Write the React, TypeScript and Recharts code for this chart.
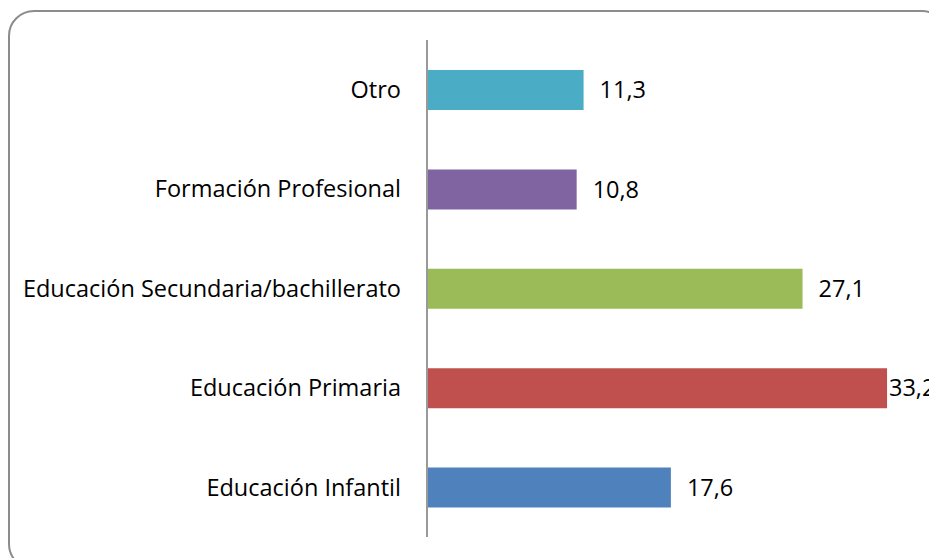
import { BarChart, Bar, XAxis, YAxis, Cell, LabelList } from "recharts"

const categories = [
  "Otro",
  "Formación Profesional",
  "Educación Secundaria/bachillerato",
  "Educación Primaria",
  "Educación Infantil",
]
const values = [11.3, 10.8, 27.1, 33.2, 17.6]
const colors = ["#4BACC6", "#8064A2", "#9BBB59", "#C0504D", "#4F81BD"]

const data = categories.map((name, i) => ({ name, value: values[i] }))

const W = 929
const H = 558
const FONT = "'Open Sans', Lato, sans-serif"
const FS = 23.5

function ValueLabel(props: any) {
  const { x, y, width, height, value } = props
  const tx = Math.min(x + width + 16, W - 40)
  return (
    <text
      x={tx}
      y={y + height / 2}
      dy="0.35em"
      fontFamily={FONT}
      fontSize={FS}
      fill="#000"
    >
      {String(value).replace(".", ",")}
    </text>
  )
}

export default function App() {
  return (
    <div
      style={{
        position: "fixed",
        top: 0,
        left: 0,
        width: W,
        height: H,
        overflow: "hidden",
        background: "#fff",
      }}
    >
      <div
        style={{
          position: "absolute",
          left: 8,
          top: 10,
          width: 940,
          height: 560,
          border: "2px solid #8c8c8c",
          borderRadius: 26,
          boxSizing: "border-box",
        }}
      />
      <BarChart
        width={W}
        height={H}
        data={data}
        layout="vertical"
        margin={{ top: 40, right: 17, bottom: 21, left: 0 }}
        style={{ position: "absolute", top: 0, left: 0 }}
      >
        <XAxis type="number" domain={[0, 35]} hide />
        <YAxis
          type="category"
          dataKey="name"
          width={427}
          axisLine={{ stroke: "#999", strokeWidth: 2 }}
          tickLine={false}
          tickSize={0}
          tickMargin={26}
          tick={{ fontFamily: FONT, fontSize: FS, fill: "#000" }}
          interval={0}
        />
        <Bar dataKey="value" barSize={40} isAnimationActive={false}>
          {data.map((d, i) => (
            <Cell key={d.name} fill={colors[i]} />
          ))}
          <LabelList dataKey="value" content={<ValueLabel />} />
        </Bar>
      </BarChart>
    </div>
  )
}
